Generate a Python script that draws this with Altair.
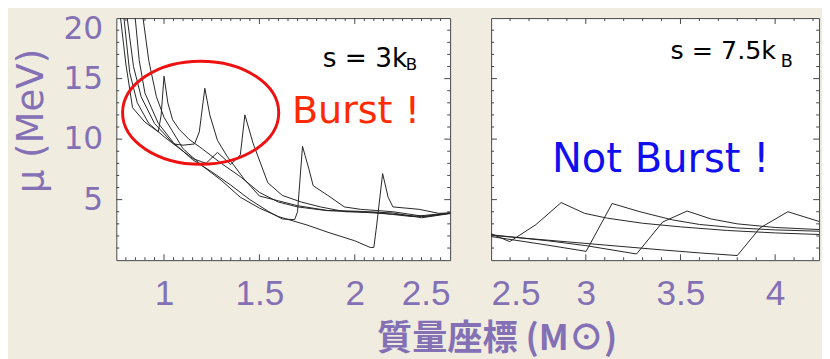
import altair as alt
import pandas as pd
import numpy as np

# ---------------- data ----------------
# left panel: s = 3 kB  (mass coordinate [Msun], mu [MeV])
c1_x = [0.772, 0.80, 0.835, 0.90, 0.97, 0.985, 1.0, 1.02, 1.045, 1.08, 1.13, 1.2, 1.3, 1.4, 1.5, 1.6, 1.7, 1.85, 2.0, 2.2, 2.35, 2.5]
c1_y = [20.0, 16.2, 12.6, 11.4, 10.6, 12.0, 15.2, 13.0, 11.6, 10.8, 10.0, 9.2, 8.0, 6.9, 5.6, 4.8, 4.4, 4.1, 4.0, 3.8, 3.6, 3.9]
c2_x = [0.79, 0.82, 0.86, 0.92, 1.0, 1.05, 1.1, 1.16, 1.185, 1.214, 1.24, 1.28, 1.33, 1.42, 1.5, 1.6, 1.7, 1.86, 2.0, 2.2, 2.35, 2.5]
c2_y = [20.0, 15.5, 13.0, 11.3, 10.2, 9.6, 9.5, 9.6, 10.6, 14.2, 12.0, 9.9, 8.6, 6.7, 5.3, 4.9, 4.5, 4.1, 4.05, 3.9, 3.5, 3.85]
c3_x = [0.807, 0.84, 0.88, 0.95, 1.05, 1.15, 1.22, 1.28, 1.35, 1.40, 1.424, 1.467, 1.544, 1.62, 1.72, 1.82, 1.95, 2.1, 2.3, 2.5]
c3_y = [20.0, 16.0, 13.5, 11.3, 9.6, 8.4, 8.0, 8.9, 7.9, 8.7, 12.0, 9.65, 6.4, 5.35, 4.8, 4.4, 4.0, 3.95, 3.6, 3.9]
c4_x = [0.849, 0.87, 0.9, 0.97, 1.05, 1.15, 1.25, 1.35, 1.45, 1.55, 1.62, 1.685, 1.70, 1.726, 1.76, 1.782, 1.859, 1.945, 2.03, 2.2, 2.37, 2.5]
c4_y = [20.0, 16.5, 13.8, 11.3, 9.7, 8.3, 7.3, 6.2, 5.0, 4.0, 3.4, 3.35, 4.0, 9.4, 7.5, 6.15, 5.35, 4.4, 4.2, 4.0, 3.6, 3.87]
c5_x = [0.89, 0.92, 0.96, 1.0, 1.1, 1.2, 1.3, 1.4, 1.5, 1.6, 1.75, 1.86, 2.0, 2.081, 2.1, 2.115, 2.146, 2.175, 2.2, 2.337, 2.44, 2.5]
c5_y = [20.0, 16.5, 13.5, 11.8, 9.2, 7.8, 6.6, 5.2, 4.3, 3.6, 2.9, 2.3, 1.6, 1.05, 1.05, 2.9, 7.15, 5.2, 4.4, 4.2, 3.87, 3.9]

# right panel: s = 7.5 kB
r1_x = [2.5, 2.598, 2.736, 2.87, 2.993, 3.114, 3.3, 3.5, 3.75, 4.0, 4.232]
r1_y = [2.18, 1.53, 2.93, 4.76, 3.87, 3.47, 3.05, 2.75, 2.45, 2.25, 2.12]
r2_x = [2.5, 2.77, 3.002, 3.139, 3.286, 3.457, 3.6, 3.8, 4.0, 4.232]
r2_y = [1.95, 1.31, 0.73, 4.68, 4.0, 3.33, 2.95, 2.66, 2.5, 2.39]
r3_x = [2.5, 2.8, 3.0, 3.268, 3.406, 3.535, 3.66, 3.8, 4.0, 4.232]
r3_y = [2.1, 1.6, 1.2, 0.51, 3.15, 4.06, 3.41, 3.0, 2.7, 2.53]
r4_x = [2.5, 2.8, 3.1, 3.4, 3.6, 3.80, 3.92, 4.067, 4.232]
r4_y = [2.05, 1.65, 1.25, 0.85, 0.6, 0.38, 2.66, 4.0, 3.2]

# axis ticks / labels
left_xlabels = [1, 1.5, 2, 2.5]
right_xlabels = [2.5, 3, 3.5, 4]
ylabels = [5, 10, 15, 20]
left_xdomain = [0.75, 2.5]
right_xdomain = [2.5, 4.232]
ydomain = [0, 20]

# annotations
ann_left_text = ["s = 3k", "B", "Burst !"]
ann_left_x = [1.832, 2.267, 2.006]
ann_left_y = [15.97, 15.75, 11.37]
ann_right_text = ["s = 7.5k", "B", "Not Burst !"]
ann_right_x = [3.447, 4.029, 3.395]
ann_right_y = [16.6, 15.97, 7.26]
ellipse_x = [1.192]
ellipse_y = [12.18]

PURPLE = "#8370b5"
FRAME = "#444444"
LW, RW, H = 342, 336, 248
XFONT = "Liberation Sans Narrow, Arial Narrow, Liberation Sans, sans-serif"

AX_LX = alt.Axis(values=left_xlabels, format="~g", ticks=False, domain=False, grid=False,
                 labelFont=XFONT, labelFontSize=36, labelColor=PURPLE,
                 labelPadding=17, labelFlush=True, title=None)
AX_RX = alt.Axis(values=right_xlabels, format="~g", ticks=False, domain=False, grid=False,
                 labelFont=XFONT, labelFontSize=36, labelColor=PURPLE,
                 labelPadding=17, labelFlush=True, title=None)
AX_LY = alt.Axis(values=ylabels, format="d", ticks=False, domain=False, grid=False,
                 labelFont="DejaVu Sans, sans-serif", labelFontSize=32, labelColor=PURPLE,
                 labelPadding=14, labelFlush=True, labelFlushOffset=4,
                 title="μ (MeV)", titleFont="DejaVu Sans, sans-serif",
                 titleFontSize=38, titleFontWeight="normal", titleColor=PURPLE, titlePadding=13,
                 titleY=105)


def curves_df(xs, ys):
    rows = []
    for k, (xx, yy) in enumerate(zip(xs, ys)):
        for i, (a, b) in enumerate(zip(xx, yy)):
            rows.append({"m": a, "mu": b, "curve": k, "i": i})
    return pd.DataFrame(rows)


def tick_layers(xscale, yscale, xaxis, yaxis, xmaj, xmin, ymaj, ymin, W):
    layers = []
    for vals, ln in [(xmaj, 6), (xmin, 3)]:
        base = alt.Chart(pd.DataFrame({"t": vals})).mark_rule(color=FRAME, strokeWidth=1)
        enc_x = alt.X("t:Q", scale=xscale, axis=xaxis)
        layers.append(base.encode(x=enc_x, y=alt.value(H), y2=alt.value(H - ln)))
        layers.append(base.encode(x=enc_x, y=alt.value(0), y2=alt.value(ln)))
    for vals, ln in [(ymaj, 6), (ymin, 3)]:
        base = alt.Chart(pd.DataFrame({"t": vals})).mark_rule(color=FRAME, strokeWidth=1)
        enc_y = alt.Y("t:Q", scale=yscale, axis=yaxis)
        layers.append(base.encode(y=enc_y, x=alt.value(0), x2=alt.value(ln)))
        layers.append(base.encode(y=enc_y, x=alt.value(W), x2=alt.value(W - ln)))
    return layers


def text_layers(texts, xs, ys, xscale, yscale, xaxis, yaxis, styles):
    out = []
    for t, x, y, st in zip(texts, xs, ys, styles):
        d = pd.DataFrame({"x": [x], "y": [y], "t": [t]})
        out.append(
            alt.Chart(d).mark_text(**st).encode(
                x=alt.X("x:Q", scale=xscale, axis=xaxis),
                y=alt.Y("y:Q", scale=yscale, axis=yaxis),
                text="t:N",
            )
        )
    return out


yscale = alt.Scale(domain=ydomain, nice=False, zero=False)
ymaj = [5, 10, 15]
ymin = [v for v in range(1, 20) if v % 5 != 0]

# ---------------- left panel ----------------
lxs = alt.Scale(domain=left_xdomain, nice=False, zero=False)
ldf = curves_df([c1_x, c2_x, c3_x, c4_x, c5_x], [c1_y, c2_y, c3_y, c4_y, c5_y])
left_lines = alt.Chart(ldf).mark_line(color="#222222", strokeWidth=1).encode(
    x=alt.X("m:Q", scale=lxs, axis=AX_LX),
    y=alt.Y("mu:Q", scale=yscale, axis=AX_LY),
    detail="curve:N",
    order="i:Q",
)
lx_maj = [1.0, 1.5, 2.0]
lx_min = [round(v, 2) for v in np.arange(0.80, 2.5, 0.05) if abs(v * 2 - round(v * 2)) > 1e-6]

ell = alt.Chart(pd.DataFrame({"x": ellipse_x, "y": ellipse_y})).mark_point(
    shape="M -1 0 A 1 0.66 0 1 0 1 0 A 1 0.66 0 1 0 -1 0",
    size=25600, filled=False, stroke="#ee1111", strokeWidth=3, opacity=1,
).encode(x=alt.X("x:Q", scale=lxs, axis=AX_LX), y=alt.Y("y:Q", scale=yscale, axis=AX_LY))

ls = [
    dict(align="left", baseline="alphabetic", font="DejaVu Sans", fontSize=27, color="black"),
    dict(align="left", baseline="alphabetic", font="DejaVu Sans", fontSize=17, color="black"),
    dict(align="center", baseline="alphabetic", font="DejaVu Sans", fontSize=39, color="#ff2a00"),
]
left = alt.layer(
    left_lines, ell,
    *tick_layers(lxs, yscale, AX_LX, AX_LY, lx_maj, lx_min, ymaj, ymin, LW),
    *text_layers(ann_left_text, ann_left_x, ann_left_y, lxs, yscale, AX_LX, AX_LY, ls),
).properties(width=LW, height=H)

# ---------------- right panel ----------------
rxs = alt.Scale(domain=right_xdomain, nice=False, zero=False)
rdf = curves_df([r1_x, r2_x, r3_x, r4_x], [r1_y, r2_y, r3_y, r4_y])
right_lines = alt.Chart(rdf).mark_line(color="#222222", strokeWidth=1).encode(
    x=alt.X("m:Q", scale=rxs, axis=AX_RX),
    y=alt.Y("mu:Q", scale=yscale, axis=None),
    detail="curve:N",
    order="i:Q",
)
rx_maj = [3.0, 3.5, 4.0]
rx_min = [round(v, 2) for v in np.arange(2.6, 4.23, 0.1) if abs(v * 2 - round(v * 2)) > 1e-6]
rs = [
    dict(align="left", baseline="alphabetic", font="DejaVu Sans", fontSize=26, color="black"),
    dict(align="left", baseline="alphabetic", font="DejaVu Sans", fontSize=18, color="black"),
    dict(align="center", baseline="alphabetic", font="DejaVu Sans", fontSize=41, color="#1010ee"),
]
right = alt.layer(
    right_lines,
    *tick_layers(rxs, yscale, AX_RX, None, rx_maj, rx_min, ymaj, ymin, RW),
    *text_layers(ann_right_text, ann_right_x, ann_right_y, rxs, yscale, AX_RX, None, rs),
).properties(width=RW, height=H)

chart = alt.hconcat(left, right, spacing=36).properties(
    background="#f0ede0",
    padding={"left": 4, "top": 0, "right": 0, "bottom": 0},
    title=alt.TitleParams(
        "質量座標 (M⊙)", orient="bottom", anchor="middle", font="Noto Sans CJK JP",
        fontSize=36, fontWeight="bold", color=PURPLE, offset=12, dx=82,
    ),
).configure_view(fill="white", stroke=FRAME, strokeWidth=1)

chart.save("out.html", embed_options={"renderer": "svg", "actions": False})
